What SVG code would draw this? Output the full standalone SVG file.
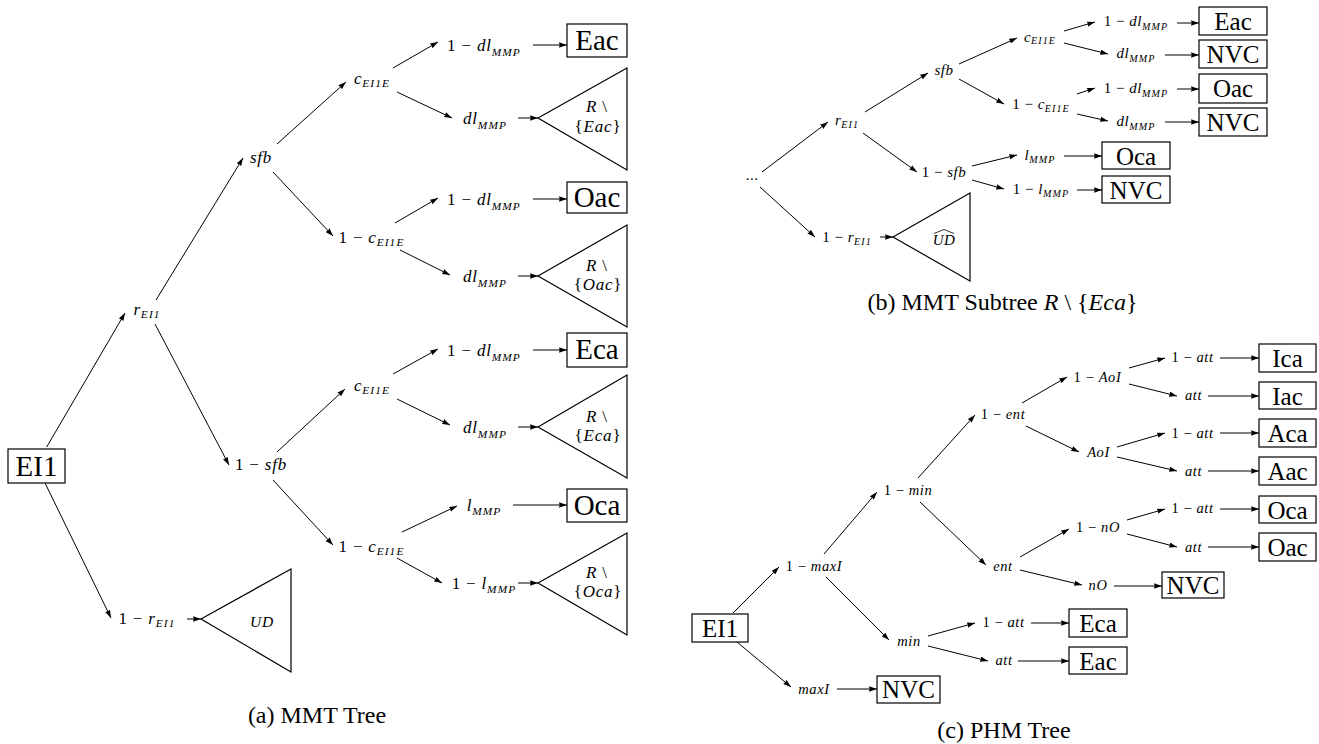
<svg xmlns="http://www.w3.org/2000/svg" width="1319" height="744" viewBox="0 0 1319 744" font-family="'Liberation Serif', 'DejaVu Serif', serif">
<defs>
<marker id="ah" viewBox="0 0 8 5.4" refX="8" refY="2.7" markerWidth="8" markerHeight="5.4" markerUnits="userSpaceOnUse" orient="auto"><path d="M0,0 L8,2.7 L0,5.4 Q1.3,2.7 0,0 z" fill="#000"/></marker>
<style>
text { font-family: 'Liberation Serif', 'DejaVu Serif', serif; fill: #000; }
.la { font-size: 17px; text-anchor: middle; letter-spacing: 0.8px; }
.lb { font-size: 15px; text-anchor: middle; letter-spacing: 0.5px; }
.lc { font-size: 14.5px; text-anchor: middle; letter-spacing: 0.6px; }
.i { font-style: italic; }
.s { font-style: italic; font-size: 67%; letter-spacing: 1.1px; }
.box { fill: #fff; stroke: #000; stroke-width: 1.2; }
.ba { font-size: 29px; text-anchor: middle; }
.bb { font-size: 25px; text-anchor: middle; }
.tri { fill: #fff; stroke: #000; stroke-width: 1.2; }
.e { fill: none; stroke: #000; stroke-width: 1; marker-end: url(#ah); }
.cap { font-size: 24px; text-anchor: middle; }
</style>
</defs>
<rect width="1319" height="744" fill="#fff"/>

<g id="connectors">
<line class="e" x1="46.7" y1="447" x2="125" y2="313"/>
<line class="e" x1="45" y1="483" x2="111" y2="618"/>
<line class="e" x1="187" y1="619" x2="201" y2="619"/>
<line class="e" x1="156" y1="300" x2="243" y2="158"/>
<line class="e" x1="155" y1="324" x2="229" y2="465"/>
<line class="e" x1="277" y1="144" x2="346" y2="82"/>
<line class="e" x1="273" y1="172" x2="333" y2="236"/>
<line class="e" x1="277" y1="452" x2="345" y2="389"/>
<line class="e" x1="273" y1="480" x2="333" y2="545"/>
<line class="e" x1="393" y1="68" x2="438" y2="42"/>
<line class="e" x1="397" y1="92" x2="452" y2="118"/>
<line class="e" x1="395" y1="223" x2="438" y2="198"/>
<line class="e" x1="400" y1="250" x2="450" y2="275"/>
<line class="e" x1="393" y1="374" x2="438" y2="349"/>
<line class="e" x1="397" y1="399" x2="450" y2="425"/>
<line class="e" x1="402" y1="532" x2="457" y2="506"/>
<line class="e" x1="397" y1="558" x2="442" y2="583"/>
<line class="e" x1="533" y1="45" x2="567" y2="45"/>
<line class="e" x1="518" y1="118" x2="538" y2="118"/>
<line class="e" x1="533" y1="199" x2="567" y2="199"/>
<line class="e" x1="518" y1="276" x2="538" y2="276"/>
<line class="e" x1="533" y1="350" x2="567" y2="350"/>
<line class="e" x1="518" y1="427" x2="538" y2="427"/>
<line class="e" x1="513" y1="505" x2="567" y2="505"/>
<line class="e" x1="518" y1="583" x2="538" y2="583"/>
<line class="e" x1="762" y1="172" x2="828" y2="122"/>
<line class="e" x1="760" y1="187" x2="815" y2="237"/>
<line class="e" x1="880" y1="237" x2="893" y2="237"/>
<line class="e" x1="865" y1="112" x2="928" y2="73"/>
<line class="e" x1="863" y1="133" x2="917" y2="172"/>
<line class="e" x1="959" y1="64" x2="1017" y2="38"/>
<line class="e" x1="959" y1="79" x2="1004" y2="104"/>
<line class="e" x1="972" y1="166" x2="1017" y2="155"/>
<line class="e" x1="972" y1="180" x2="1004" y2="189"/>
<line class="e" x1="1064" y1="31" x2="1095" y2="22"/>
<line class="e" x1="1064" y1="43" x2="1108" y2="54"/>
<line class="e" x1="1077" y1="94" x2="1095" y2="88"/>
<line class="e" x1="1077" y1="114" x2="1108" y2="121"/>
<line class="e" x1="1177" y1="23" x2="1199" y2="23"/>
<line class="e" x1="1165" y1="55" x2="1199" y2="55"/>
<line class="e" x1="1177" y1="89" x2="1199" y2="89"/>
<line class="e" x1="1165" y1="122" x2="1199" y2="122"/>
<line class="e" x1="1064" y1="156" x2="1102" y2="156"/>
<line class="e" x1="1077" y1="190" x2="1102" y2="190"/>
<line class="e" x1="733" y1="613" x2="779" y2="567"/>
<line class="e" x1="737" y1="642" x2="791" y2="687"/>
<line class="e" x1="837" y1="689" x2="877" y2="689"/>
<line class="e" x1="824" y1="554" x2="877" y2="492"/>
<line class="e" x1="826" y1="577" x2="889" y2="640"/>
<line class="e" x1="918" y1="478" x2="975" y2="415"/>
<line class="e" x1="920" y1="502" x2="986" y2="565"/>
<line class="e" x1="928" y1="636" x2="975" y2="623"/>
<line class="e" x1="928" y1="646" x2="988" y2="661"/>
<line class="e" x1="1031" y1="623" x2="1069" y2="623"/>
<line class="e" x1="1018" y1="661" x2="1069" y2="661"/>
<line class="e" x1="1022" y1="403" x2="1067" y2="377"/>
<line class="e" x1="1026" y1="426" x2="1079" y2="452"/>
<line class="e" x1="1020" y1="557" x2="1069" y2="529"/>
<line class="e" x1="1020" y1="570" x2="1082" y2="585"/>
<line class="e" x1="1114" y1="586" x2="1162" y2="586"/>
<line class="e" x1="1129" y1="368" x2="1165" y2="358"/>
<line class="e" x1="1129" y1="384" x2="1177" y2="396"/>
<line class="e" x1="1117" y1="447" x2="1165" y2="433"/>
<line class="e" x1="1117" y1="457" x2="1177" y2="471"/>
<line class="e" x1="1127" y1="520" x2="1165" y2="509"/>
<line class="e" x1="1127" y1="534" x2="1177" y2="547"/>
<line class="e" x1="1220" y1="358" x2="1259" y2="358"/>
<line class="e" x1="1208" y1="396" x2="1259" y2="396"/>
<line class="e" x1="1220" y1="433" x2="1259" y2="433"/>
<line class="e" x1="1208" y1="471" x2="1259" y2="471"/>
<line class="e" x1="1220" y1="509" x2="1259" y2="509"/>
<line class="e" x1="1208" y1="547" x2="1259" y2="547"/>
</g>

<g id="a-EI1"><rect class="box" x="8" y="449" width="57" height="34"/><text class="ba" x="36.5" y="476">EI1</text></g>
<g id="a-r"><text class="la" x="147" y="315"><tspan class="i">r</tspan><tspan class="s" dy="3">EI1</tspan></text></g>
<g id="a-1r"><text class="la" x="147" y="624">1 − <tspan class="i">r</tspan><tspan class="s" dy="3">EI1</tspan></text></g>
<g id="a-UD"><polygon class="tri" points="201,619 291,569 291,672"/><text class="la i" x="262" y="627" style="font-size:15.5px">UD</text></g>
<g id="a-sfb"><text class="la i" x="261" y="163">sfb</text></g>
<g id="a-1sfb"><text class="la" x="261" y="470">1 − <tspan class="i">sfb</tspan></text></g>
<g id="a-c1"><text class="la" x="372" y="83.5"><tspan class="i">c</tspan><tspan class="s" dy="3">EI1E</tspan></text></g>
<g id="a-1c1"><text class="la" x="371.5" y="243">1 − <tspan class="i">c</tspan><tspan class="s" dy="3">EI1E</tspan></text></g>
<g id="a-c2"><text class="la" x="372" y="391"><tspan class="i">c</tspan><tspan class="s" dy="3">EI1E</tspan></text></g>
<g id="a-1c2"><text class="la" x="371.5" y="552">1 − <tspan class="i">c</tspan><tspan class="s" dy="3">EI1E</tspan></text></g>
<g id="a-1dl1"><text class="la" x="484" y="50.5">1 − <tspan class="i">dl</tspan><tspan class="s" dy="5">MMP</tspan></text></g>
<g id="a-dl1"><text class="la" x="485" y="123.5"><tspan class="i">dl</tspan><tspan class="s" dy="5">MMP</tspan></text></g>
<g id="a-1dl2"><text class="la" x="484" y="204.5">1 − <tspan class="i">dl</tspan><tspan class="s" dy="5">MMP</tspan></text></g>
<g id="a-dl2"><text class="la" x="485" y="281.5"><tspan class="i">dl</tspan><tspan class="s" dy="5">MMP</tspan></text></g>
<g id="a-1dl3"><text class="la" x="484" y="355.5">1 − <tspan class="i">dl</tspan><tspan class="s" dy="5">MMP</tspan></text></g>
<g id="a-dl3"><text class="la" x="485" y="432.5"><tspan class="i">dl</tspan><tspan class="s" dy="5">MMP</tspan></text></g>
<g id="a-l"><text class="la" x="484" y="511"><tspan class="i">l</tspan><tspan class="s" dy="4">MMP</tspan></text></g>
<g id="a-1l"><text class="la" x="484" y="589">1 − <tspan class="i">l</tspan><tspan class="s" dy="4">MMP</tspan></text></g>
<g id="a-Eac"><rect class="box" x="567" y="24" width="60" height="33"/><text class="ba" x="597" y="50">Eac</text></g>
<g id="a-REac"><polygon class="tri" points="538,118 627,68 627,170"/><text class="la" x="597" y="112"><tspan class="i">R</tspan> \</text><text class="la" x="598" y="132">{<tspan class="i">Eac</tspan>}</text></g>
<g id="a-Oac"><rect class="box" x="567" y="182" width="60" height="31"/><text class="ba" x="597" y="207">Oac</text></g>
<g id="a-ROac"><polygon class="tri" points="538,276 627,225 627,327"/><text class="la" x="597" y="271"><tspan class="i">R</tspan> \</text><text class="la" x="598" y="290">{<tspan class="i">Oac</tspan>}</text></g>
<g id="a-Eca"><rect class="box" x="567" y="333" width="60" height="34"/><text class="ba" x="597" y="359">Eca</text></g>
<g id="a-REca"><polygon class="tri" points="538,427 627,375 627,478"/><text class="la" x="597" y="422"><tspan class="i">R</tspan> \</text><text class="la" x="598" y="441">{<tspan class="i">Eca</tspan>}</text></g>
<g id="a-Oca"><rect class="box" x="567" y="489" width="60" height="33"/><text class="ba" x="597" y="515">Oca</text></g>
<g id="a-ROca"><polygon class="tri" points="538,583 627,533 627,635"/><text class="la" x="597" y="578"><tspan class="i">R</tspan> \</text><text class="la" x="598" y="597">{<tspan class="i">Oca</tspan>}</text></g>
<g id="cap-a"><text class="cap" x="317" y="723">(a) MMT Tree</text></g>

<g id="b-dots"><text class="lb" x="752" y="179.5">...</text></g>
<g id="b-r"><text class="lb" x="847" y="125"><tspan class="i">r</tspan><tspan class="s" dy="2.5">EI1</tspan></text></g>
<g id="b-1r"><text class="lb" x="847" y="242">1 − <tspan class="i">r</tspan><tspan class="s" dy="2.5">EI1</tspan></text></g>
<g id="b-UD"><polygon class="tri" points="893,237 970,193 970,281"/><text class="lb i" x="944" y="245">UD</text><path d="M934,233.5 L944,229.5 L954,233.5" fill="none" stroke="#000" stroke-width="0.8"/></g>
<g id="b-sfb"><text class="lb i" x="944" y="75">sfb</text></g>
<g id="b-1sfb"><text class="lb" x="944" y="176.5">1 − <tspan class="i">sfb</tspan></text></g>
<g id="b-c"><text class="lb" x="1040" y="41.7"><tspan class="i">c</tspan><tspan class="s" dy="2.5">EI1E</tspan></text></g>
<g id="b-1c"><text class="lb" x="1041" y="109">1 − <tspan class="i">c</tspan><tspan class="s" dy="2.5">EI1E</tspan></text></g>
<g id="b-l"><text class="lb" x="1040" y="159.5"><tspan class="i">l</tspan><tspan class="s" dy="3.5">MMP</tspan></text></g>
<g id="b-1l"><text class="lb" x="1041" y="193.5">1 − <tspan class="i">l</tspan><tspan class="s" dy="3.5">MMP</tspan></text></g>
<g id="b-1dl1"><text class="lb" x="1136" y="26">1 − <tspan class="i">dl</tspan><tspan class="s" dy="4">MMP</tspan></text></g>
<g id="b-dl1"><text class="lb" x="1136" y="58.3"><tspan class="i">dl</tspan><tspan class="s" dy="4">MMP</tspan></text></g>
<g id="b-1dl2"><text class="lb" x="1136" y="93">1 − <tspan class="i">dl</tspan><tspan class="s" dy="4">MMP</tspan></text></g>
<g id="b-dl2"><text class="lb" x="1136" y="126"><tspan class="i">dl</tspan><tspan class="s" dy="4">MMP</tspan></text></g>
<g id="b-Eac"><rect class="box" x="1199" y="7" width="68" height="28"/><text class="bb" x="1233" y="30">Eac</text></g>
<g id="b-NVC1"><rect class="box" x="1199" y="40" width="68" height="28"/><text class="bb" x="1233" y="63">NVC</text></g>
<g id="b-Oac"><rect class="box" x="1199" y="74" width="68" height="29"/><text class="bb" x="1233" y="97">Oac</text></g>
<g id="b-NVC2"><rect class="box" x="1199" y="108" width="68" height="28"/><text class="bb" x="1233" y="131">NVC</text></g>
<g id="b-Oca"><rect class="box" x="1102" y="142" width="68" height="27"/><text class="bb" x="1136" y="164.5">Oca</text></g>
<g id="b-NVC3"><rect class="box" x="1102" y="176" width="68" height="27"/><text class="bb" x="1136" y="198.5">NVC</text></g>
<g id="cap-b"><text class="cap" x="1002.5" y="310">(b) MMT Subtree <tspan class="i">R</tspan> \ {<tspan class="i">Eca</tspan>}</text></g>

<g id="c-EI1"><rect class="box" x="692" y="614" width="56" height="28"/><text class="bb" x="720" y="637">EI1</text></g>
<g id="c-1maxI"><text class="lc" x="814" y="571">1 − <tspan class="i">maxI</tspan></text></g>
<g id="c-maxI"><text class="lc i" x="814" y="694">maxI</text></g>
<g id="c-NVC1"><rect class="box" x="877" y="676" width="63" height="27"/><text class="bb" x="908.5" y="697.5">NVC</text></g>
<g id="c-1min"><text class="lc" x="908" y="495">1 − <tspan class="i">min</tspan></text></g>
<g id="c-min"><text class="lc i" x="909" y="646">min</text></g>
<g id="c-1ent"><text class="lc" x="1003" y="419">1 − <tspan class="i">ent</tspan></text></g>
<g id="c-ent"><text class="lc i" x="1003" y="571">ent</text></g>
<g id="c-1att-E"><text class="lc" x="1003.5" y="627">1 − <tspan class="i">att</tspan></text></g>
<g id="c-att-E"><text class="lc i" x="1004" y="665">att</text></g>
<g id="c-Eca"><rect class="box" x="1069" y="609" width="58" height="28"/><text class="bb" x="1098" y="632">Eca</text></g>
<g id="c-Eac"><rect class="box" x="1069" y="647" width="58" height="27"/><text class="bb" x="1098" y="669.5">Eac</text></g>
<g id="c-1AoI"><text class="lc" x="1097.5" y="382">1 − <tspan class="i">AoI</tspan></text></g>
<g id="c-AoI"><text class="lc i" x="1098.5" y="457">AoI</text></g>
<g id="c-1nO"><text class="lc" x="1098" y="532">1 − <tspan class="i">nO</tspan></text></g>
<g id="c-nO"><text class="lc i" x="1098" y="590">nO</text></g>
<g id="c-NVC2"><rect class="box" x="1162" y="572" width="62" height="26"/><text class="bb" x="1193" y="594">NVC</text></g>
<g id="c-1att1"><text class="lc" x="1192.5" y="362">1 − <tspan class="i">att</tspan></text></g>
<g id="c-att1"><text class="lc i" x="1193.5" y="400">att</text></g>
<g id="c-1att2"><text class="lc" x="1192.5" y="438">1 − <tspan class="i">att</tspan></text></g>
<g id="c-att2"><text class="lc i" x="1193.5" y="476">att</text></g>
<g id="c-1att3"><text class="lc" x="1192.5" y="513">1 − <tspan class="i">att</tspan></text></g>
<g id="c-att3"><text class="lc i" x="1193.5" y="552">att</text></g>
<g id="c-Ica"><rect class="box" x="1259" y="344" width="57" height="28"/><text class="bb" x="1287.5" y="367">Ica</text></g>
<g id="c-Iac"><rect class="box" x="1259" y="382" width="57" height="27"/><text class="bb" x="1287.5" y="404.5">Iac</text></g>
<g id="c-Aca"><rect class="box" x="1259" y="419" width="57" height="28"/><text class="bb" x="1287.5" y="442">Aca</text></g>
<g id="c-Aac"><rect class="box" x="1259" y="457" width="57" height="28"/><text class="bb" x="1287.5" y="480">Aac</text></g>
<g id="c-Oca"><rect class="box" x="1259" y="496" width="57" height="27"/><text class="bb" x="1287.5" y="518.5">Oca</text></g>
<g id="c-Oac"><rect class="box" x="1259" y="533" width="57" height="28"/><text class="bb" x="1287.5" y="556">Oac</text></g>
<g id="cap-c"><text class="cap" x="1004" y="738">(c) PHM Tree</text></g>
</svg>
